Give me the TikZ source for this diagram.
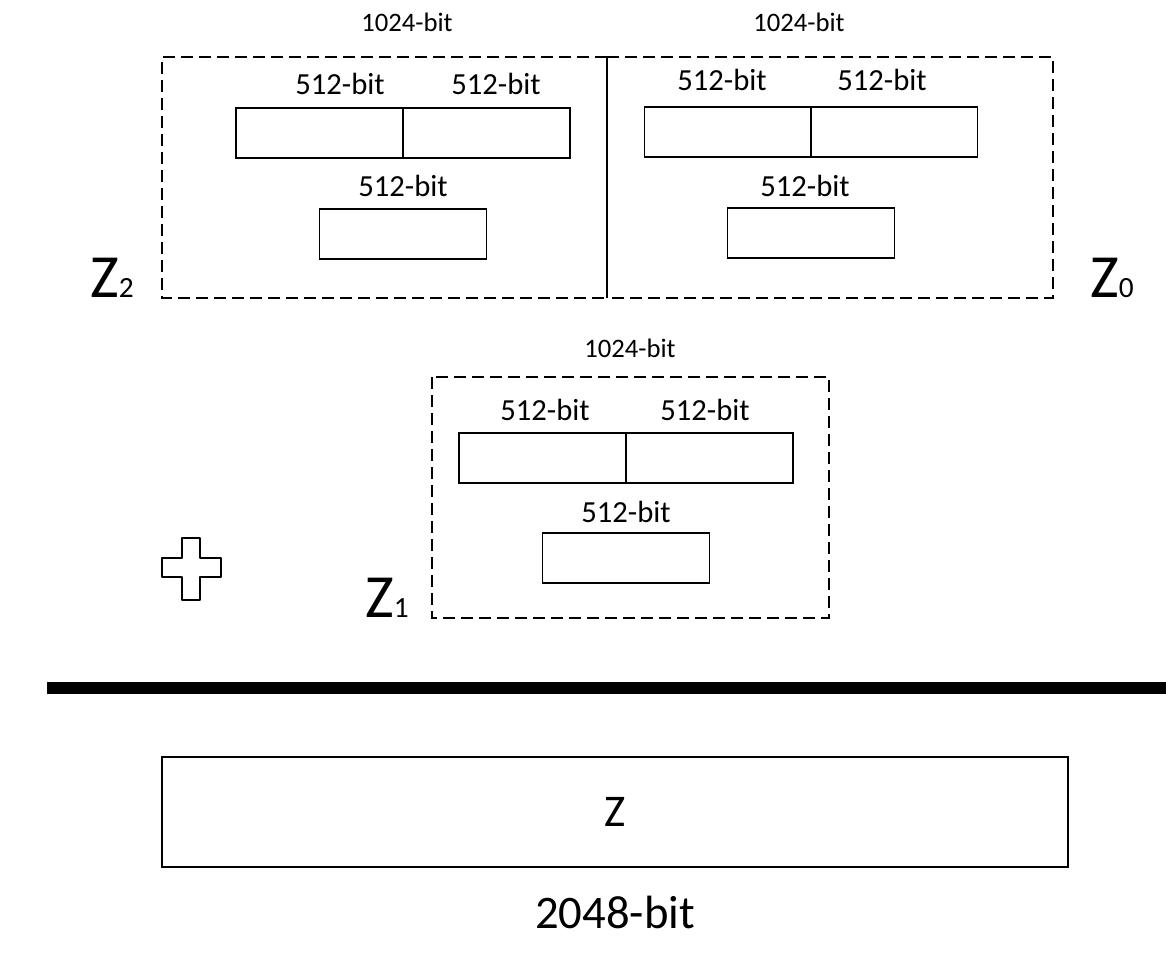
\documentclass[tikz,border=0pt]{standalone}
\usepackage{fontspec}
\setmainfont{Carlito}
\usetikzlibrary{positioning}

\tikzset{
  half/.style={draw, line width=1.1pt, minimum width=125pt, minimum height=37.5pt, inner sep=0pt},
  partbox/.style={draw, line width=1.1pt, dash pattern=on 9pt off 4.5pt},
  bits/.style={font=\fontsize{23}{26}\selectfont, inner sep=0pt},
  bigbits/.style={font=\fontsize{20}{23}\selectfont, inner sep=0pt},
  zname/.style={font=\fontsize{46}{50}\selectfont, inner sep=0pt}
}

\begin{document}
\begin{tikzpicture}[x=0.75pt, y=-0.75pt]
\useasboundingbox (0,0) rectangle (1166,954);

% Z2 part
\draw[partbox] (607,57) -- (162,57) -- (162,298) -- (607,298);
\node[bigbits] (w2) at (407,22) {1024-bit};
\node[half] (z2a) at (319.5,133) {};
\node[half] (z2b) at (486.5,133) {};
\node[bits] (l2a) at (340,84) {512-bit};
\node[bits] (l2b) at (496,84) {512-bit};
\node[half] (z2c) at (403,234) {};
\node[bits] (l2c) at (403,186) {512-bit};
\node[zname, anchor=base] (n2) at (112,297) {Z\fontsize{22}{24}\selectfont 2};

% Z0 part
\draw[partbox] (607,57) -- (1053,57) -- (1053,298) -- (607,298);
\draw[line width=1.1pt] (607,57) -- (607,298);
\node[bigbits] (w0) at (799,22) {1024-bit};
\node[half] (z0a) at (728,132) {};
\node[half] (z0b) at (894,132) {};
\node[bits] (l0a) at (722,80) {512-bit};
\node[bits] (l0b) at (882,80) {512-bit};
\node[half] (z0c) at (811,233) {};
\node[bits] (l0c) at (805,186) {512-bit};
\node[zname, anchor=base] (n0) at (1112,297) {Z\fontsize{22}{24}\selectfont 0};

% Z1 part
\draw[partbox] (432,377) rectangle (829,618);
\node[bigbits] (w1) at (630,348) {1024-bit};
\node[half] (z1a) at (542.5,458) {};
\node[half] (z1b) at (709.5,458) {};
\node[bits] (l1a) at (545,410) {512-bit};
\node[bits] (l1b) at (705,410) {512-bit};
\node[half] (z1c) at (626,558) {};
\node[bits] (l1c) at (626,512) {512-bit};
\node[zname, anchor=base] (n1) at (387,617) {Z\fontsize{22}{24}\selectfont 1};

% plus
\draw[line width=1.3pt, line join=round]
  (182,538) -- (200,538) -- (200,558) -- (221,558) -- (221,577) -- (200,577)
  -- (200,600) -- (182,600) -- (182,577) -- (162,577) -- (162,558) -- (182,558) -- cycle;

% sum line
\draw[line width=9pt] (47,688) -- (1166,688);

% result
\node[draw, line width=1.1pt, minimum width=679.5pt, minimum height=82.5pt, inner sep=0pt,
  font=\fontsize{34}{38}\selectfont] (z) at (615,812) {Z};
\node[font=\fontsize{35}{40}\selectfont, inner sep=0pt] (wz) at (615,912) {2048-bit};
\end{tikzpicture}
\end{document}
